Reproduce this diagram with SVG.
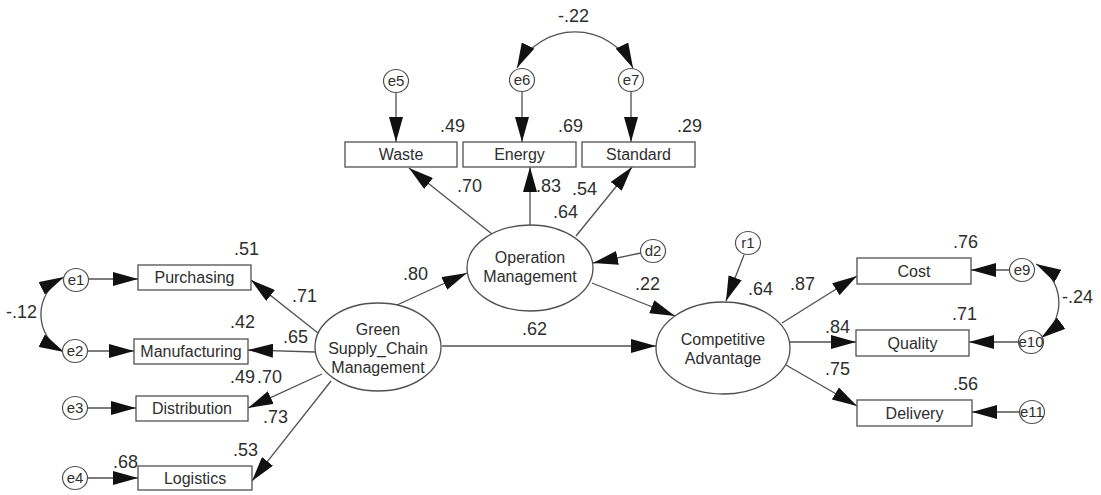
<svg xmlns="http://www.w3.org/2000/svg" width="1101" height="495" viewBox="0 0 1101 495">
  <style>
    .box { fill: #fff; stroke: #505050; stroke-width: 1.3; }
    .lat { fill: #fff; stroke: #505050; stroke-width: 1.3; }
    .err { fill: #fff; stroke: #505050; stroke-width: 1.2; }
    .ln { fill: none; stroke: #505050; stroke-width: 1.3; }
    .arw { marker-end: url(#ah); }
    .cov { marker-start: url(#ah); marker-end: url(#ah); }
    text { font-family: "Liberation Sans", Arial, sans-serif; fill: #2e2e2e; }
    .bt { font-size: 16px; text-anchor: middle; }
    .lt { font-size: 16px; text-anchor: middle; }
    .et { font-size: 15px; text-anchor: middle; }
    .num { font-size: 18px; }
  </style>
  <defs>
    <marker id="ah" markerUnits="userSpaceOnUse" markerWidth="26" markerHeight="14" refX="25" refY="7" orient="auto-start-reverse">
      <path d="M0,0 L25,7 L0,14 Z" fill="#111"/>
    </marker>
  </defs>
  <rect width="1101" height="495" fill="#fff"/>

  <!-- paths and covariances -->
  <g id="connectors">
    <!-- error terms to indicators -->
    <line class="ln arw" x1="88" y1="279" x2="138" y2="279"/>
    <line class="ln arw" x1="87" y1="351" x2="134" y2="351"/>
    <line class="ln arw" x1="87" y1="408" x2="136" y2="408"/>
    <line class="ln arw" x1="87" y1="478" x2="138" y2="478"/>
    <line class="ln arw" x1="396" y1="92" x2="396" y2="142"/>
    <line class="ln arw" x1="522" y1="91" x2="522" y2="142"/>
    <line class="ln arw" x1="631" y1="91" x2="631" y2="142"/>
    <line class="ln arw" x1="1010" y1="270" x2="971" y2="270"/>
    <line class="ln arw" x1="1019" y1="342" x2="969" y2="342"/>
    <line class="ln arw" x1="1020" y1="412" x2="972" y2="412"/>
    <!-- disturbances -->
    <line class="ln arw" x1="641" y1="253" x2="593" y2="263"/>
    <line class="ln arw" x1="744" y1="255" x2="726" y2="301"/>
    <!-- Operation Management loadings -->
    <line class="ln arw" x1="492" y1="234" x2="409" y2="168"/>
    <line class="ln arw" x1="530" y1="225" x2="530" y2="167"/>
    <line class="ln arw" x1="576" y1="236" x2="632" y2="167"/>
    <!-- structural paths -->
    <line class="ln arw" x1="592" y1="283" x2="675" y2="316"/>
    <line class="ln arw" x1="397" y1="305" x2="467" y2="273"/>
    <line class="ln arw" x1="442" y1="346" x2="656" y2="346"/>
    <!-- Green Supply_Chain Management loadings -->
    <line class="ln arw" x1="318" y1="333" x2="251" y2="280"/>
    <line class="ln arw" x1="315" y1="352" x2="248" y2="350"/>
    <line class="ln arw" x1="322" y1="374" x2="248" y2="408"/>
    <line class="ln arw" x1="331" y1="381" x2="252" y2="481"/>
    <!-- Competitive Advantage loadings -->
    <line class="ln arw" x1="782" y1="323" x2="857" y2="276"/>
    <line class="ln arw" x1="790" y1="342" x2="856" y2="342"/>
    <line class="ln arw" x1="786" y1="365" x2="857" y2="406"/>
    <!-- error covariances -->
    <path class="ln cov" d="M64,277 A42,42 0 0 0 64,352"/>
    <path class="ln cov" d="M517,68 A64.7,64.7 0 0 1 633,68"/>
    <path class="ln cov" d="M1036,264 A44,44 0 0 1 1041,338"/>
  </g>

  <!-- latent constructs -->
  <g id="gscm">
    <ellipse class="lat" cx="378" cy="347" rx="63" ry="44"/>
    <text class="lt" x="378" y="335">Green</text>
    <text class="lt" x="378" y="354">Supply_Chain</text>
    <text class="lt" x="378" y="373">Management</text>
  </g>
  <g id="om">
    <ellipse class="lat" cx="530" cy="268" rx="63" ry="43"/>
    <text class="lt" x="530" y="263">Operation</text>
    <text class="lt" x="530" y="282">Management</text>
  </g>
  <g id="ca">
    <ellipse class="lat" cx="723" cy="348" rx="67" ry="46"/>
    <text class="lt" x="723" y="345">Competitive</text>
    <text class="lt" x="723" y="364">Advantage</text>
  </g>

  <!-- observed indicators -->
  <g id="waste"><rect class="box" x="345" y="142" width="112" height="25"/><text class="bt" x="401" y="160">Waste</text></g>
  <g id="energy"><rect class="box" x="463" y="142" width="113" height="25"/><text class="bt" x="519.5" y="160">Energy</text></g>
  <g id="standard"><rect class="box" x="582" y="142" width="113" height="25"/><text class="bt" x="638.5" y="160">Standard</text></g>
  <g id="purchasing"><rect class="box" x="138" y="265" width="113" height="25"/><text class="bt" x="194.5" y="283">Purchasing</text></g>
  <g id="manufacturing"><rect class="box" x="134" y="339" width="114" height="25"/><text class="bt" x="191" y="357">Manufacturing</text></g>
  <g id="distribution"><rect class="box" x="136" y="396" width="112" height="25"/><text class="bt" x="192" y="414">Distribution</text></g>
  <g id="logistics"><rect class="box" x="138" y="466" width="114" height="24"/><text class="bt" x="195" y="484">Logistics</text></g>
  <g id="cost"><rect class="box" x="857" y="258" width="114" height="26"/><text class="bt" x="914" y="277">Cost</text></g>
  <g id="quality"><rect class="box" x="856" y="330" width="113" height="26"/><text class="bt" x="912.5" y="349">Quality</text></g>
  <g id="delivery"><rect class="box" x="857" y="400" width="115" height="26"/><text class="bt" x="914.5" y="419">Delivery</text></g>

  <!-- error and disturbance terms -->
  <g id="e1"><ellipse class="err" cx="76" cy="280" rx="12.5" ry="11.5"/><text class="et" x="76" y="285">e1</text></g>
  <g id="e2"><ellipse class="err" cx="75" cy="351" rx="12.5" ry="11.5"/><text class="et" x="75" y="356">e2</text></g>
  <g id="e3"><ellipse class="err" cx="75" cy="408" rx="12.5" ry="11.5"/><text class="et" x="75" y="413">e3</text></g>
  <g id="e4"><ellipse class="err" cx="75" cy="478" rx="12.5" ry="11.5"/><text class="et" x="75" y="483">e4</text></g>
  <g id="e5"><ellipse class="err" cx="396" cy="81" rx="12.5" ry="11.5"/><text class="et" x="396" y="86">e5</text></g>
  <g id="e6"><ellipse class="err" cx="522" cy="80" rx="12.5" ry="11.5"/><text class="et" x="522" y="85">e6</text></g>
  <g id="e7"><ellipse class="err" cx="631" cy="80" rx="12.5" ry="11.5"/><text class="et" x="631" y="85">e7</text></g>
  <g id="d2"><ellipse class="err" cx="653" cy="251" rx="12.5" ry="11.5"/><text class="et" x="653" y="256">d2</text></g>
  <g id="r1"><ellipse class="err" cx="748" cy="243" rx="12.5" ry="11.5"/><text class="et" x="748" y="248">r1</text></g>
  <g id="e9"><ellipse class="err" cx="1022" cy="270" rx="12.5" ry="11.5"/><text class="et" x="1022" y="275">e9</text></g>
  <g id="e10"><ellipse class="err" cx="1031" cy="342" rx="12.5" ry="11.5"/><text class="et" x="1031" y="347">e10</text></g>
  <g id="e11"><ellipse class="err" cx="1032" cy="412" rx="12.5" ry="11.5"/><text class="et" x="1032" y="417">e11</text></g>

  <!-- estimates -->
  <g id="estimates">
    <text class="num" x="558" y="22">-.22</text>
    <text class="num" x="440" y="132">.49</text>
    <text class="num" x="558" y="132">.69</text>
    <text class="num" x="677" y="132">.29</text>
    <text class="num" x="457" y="192">.70</text>
    <text class="num" x="536" y="192">.83</text>
    <text class="num" x="572" y="195">.54</text>
    <text class="num" x="553" y="218">.64</text>
    <text class="num" x="234" y="255">.51</text>
    <text class="num" x="292" y="302">.71</text>
    <text class="num" x="230" y="328">.42</text>
    <text class="num" x="283" y="343">.65</text>
    <text class="num" x="230" y="383">.49</text>
    <text class="num" x="257" y="383">.70</text>
    <text class="num" x="263" y="423">.73</text>
    <text class="num" x="233" y="456">.53</text>
    <text class="num" x="113" y="468">.68</text>
    <text class="num" x="403" y="280">.80</text>
    <text class="num" x="635" y="290">.22</text>
    <text class="num" x="522" y="335">.62</text>
    <text class="num" x="748" y="295">.64</text>
    <text class="num" x="790" y="290">.87</text>
    <text class="num" x="953" y="248">.76</text>
    <text class="num" x="952" y="320">.71</text>
    <text class="num" x="953" y="390">.56</text>
    <text class="num" x="825" y="333">.84</text>
    <text class="num" x="825" y="375">.75</text>
    <text class="num" x="1062" y="303">-.24</text>
    <text class="num" x="6" y="318">-.12</text>
  </g>
</svg>
